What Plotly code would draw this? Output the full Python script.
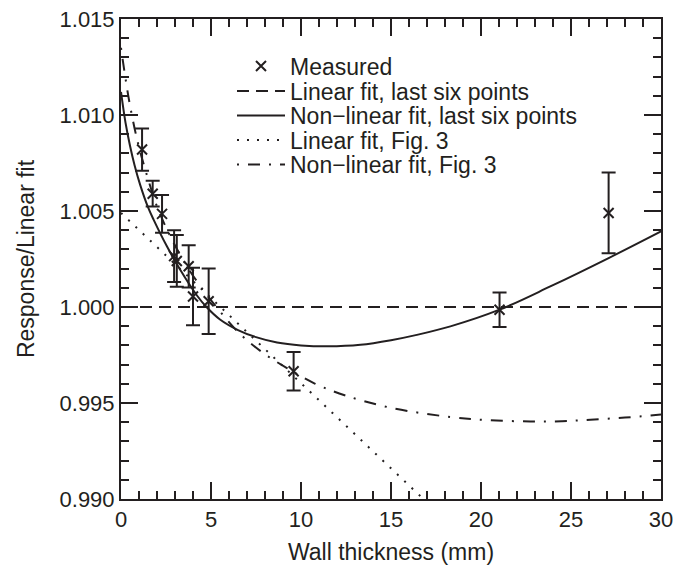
import plotly.graph_objects as go

# ---- Measured points ----
thickness_mm = [1.17, 1.76, 2.28, 2.95, 3.10, 3.76, 4.00, 4.87, 9.59, 21.03, 27.09]
response = [1.00820, 1.00590, 1.00485, 1.00265, 1.00240, 1.00212, 1.00055, 1.00030, 0.99665, 0.99986, 1.00490]
response_err = [0.00110, 0.00067, 0.00098, 0.00135, 0.00135, 0.00110, 0.00150, 0.00170, 0.00100, 0.00090, 0.00210]

# ---- Linear fit, last six points ----
lin6_x = [0, 30]
lin6_y = [1.000, 1.000]

# ---- Non-linear fit, last six points ----
nl6_x = [0, 0.25, 0.5, 0.75, 1.07, 1.5, 1.81, 2.55, 3.29, 4.22, 4.75, 5.5, 6.5, 7.5, 8.67,
         10.0, 11.5, 13.3, 15.0, 16.5, 18.3, 21.03, 23.85, 27.09, 30.0]
nl6_y = [1.0112, 1.0096, 1.0084, 1.0074, 1.00635, 1.0052, 1.00455, 1.00316, 1.00194, 1.00060,
         1.0000, 0.99935, 0.99880, 0.99843, 0.99815, 0.99800, 0.99795, 0.99803, 0.99827, 0.99856,
         0.99899, 0.99986, 1.00107, 1.00255, 1.00394]

# ---- Linear fit, Fig. 3 ----
linf3_x = [0, 16.8]
linf3_y = [1.0049, 0.9900]

# ---- Non-linear fit, Fig. 3 ----
nlf3_x = [0, 0.25, 0.5, 0.9, 1.35, 2.0, 2.74, 3.67, 4.4, 5.3, 6.5, 7.83, 9.22, 10.79, 12.5,
          15.0, 18.3, 20.5, 22.74, 24.5, 26.07, 28.0, 30.0]
nlf3_y = [1.0135, 1.0119, 1.0105, 1.0087, 1.00715, 1.00524, 1.00368, 1.00211, 1.00110, 1.0000,
          0.99870, 0.99765, 0.99682, 0.99600, 0.99538, 0.99475, 0.99427, 0.99410, 0.99404,
          0.99405, 0.99413, 0.99424, 0.99440]

legend_names = ["Measured", "Linear fit, last six points", "Non\u2212linear fit, last six points",
                "Linear fit, Fig. 3", "Non\u2212linear fit, Fig. 3"]

ink = "#231f20"
FONT = "Liberation Sans, Arial, Helvetica, sans-serif"

fig = go.Figure()
fig.add_trace(go.Scatter(x=lin6_x, y=lin6_y, mode="lines", name=legend_names[1], legend="legend2",
                         line=dict(color=ink, width=2, dash="12px,7px")))
fig.add_trace(go.Scatter(x=nl6_x, y=nl6_y, mode="lines", name=legend_names[2], legend="legend3",
                         line=dict(color=ink, width=2, shape="spline", smoothing=1.0)))
fig.add_trace(go.Scatter(x=linf3_x, y=linf3_y, mode="lines", name=legend_names[3], legend="legend4",
                         line=dict(color=ink, width=2, dash="2px,8px")))
fig.add_trace(go.Scatter(x=nlf3_x, y=nlf3_y, mode="lines", name=legend_names[4], legend="legend5",
                         line=dict(color=ink, width=2, dash="2px,9px,12px,9px", shape="spline", smoothing=1.0)))
fig.add_trace(go.Scatter(x=thickness_mm, y=response, mode="markers", name=legend_names[0], legend="legend",
                         showlegend=True,
                         marker=dict(symbol="x-thin", size=10, color=ink, line=dict(color=ink, width=2)),
                         error_y=dict(type="data", array=response_err, visible=True, color=ink,
                                      thickness=2, width=7)))

# plot area in window pixels (page body margin is removed below)
PL, PT, PW, PH = 121, 19, 540, 480
FIG_W, FIG_H = 677, 583
L, T = PL, PT
R = FIG_W - L - PW
B = FIG_H - T - PH

def px_to_paper(px, py):
    return (px - PL) / PW, (PT + PH - py) / PH

row_y = [66, 91, 115.5, 140, 164.5]
leg_x = 232
legends = {}
for i, key in enumerate(["legend", "legend2", "legend3", "legend4", "legend5"]):
    xp, yp = px_to_paper(leg_x, row_y[i])
    legends[key] = dict(x=xp, y=yp, xanchor="left", yanchor="middle", bgcolor="rgba(0,0,0,0)",
                        borderwidth=0, font=dict(family=FONT, size=23, color=ink), itemwidth=48,
                        traceorder="normal")

axis_common = dict(showline=True, linecolor=ink, linewidth=2, mirror="ticks", ticks="inside",
                   tickcolor=ink, tickwidth=2, ticklen=17, showgrid=False, zeroline=False,
                   ticklabeloverflow="allow",
                   tickfont=dict(family=FONT, size=22, color=ink))

fig.update_layout(
    width=FIG_W, height=FIG_H,
    margin=dict(l=L, r=R, t=T, b=B, autoexpand=False),
    paper_bgcolor="white", plot_bgcolor="white",
    font=dict(family=FONT, color=ink),
    showlegend=True,
    xaxis=dict(range=[0, 30], tickvals=[0, 5, 10, 15, 20, 25, 30],
               minor=dict(dtick=1, tick0=0, ticklen=8, tickwidth=2, tickcolor=ink, ticks="inside"),
               title=dict(text="Wall thickness (mm)", font=dict(family=FONT, size=23, color=ink), standoff=12),
               **axis_common),
    yaxis=dict(range=[0.990, 1.015], tickvals=[0.990, 0.995, 1.000, 1.005, 1.010, 1.015], tickformat=".3f",
               minor=dict(dtick=0.001, tick0=0.990, ticklen=8, tickwidth=2, tickcolor=ink, ticks="inside"),
               title=dict(text="Response/Linear fit", font=dict(family=FONT, size=23, color=ink), standoff=18),
               **axis_common),
    **legends,
)

fig.write_html("out.html", config={"displayModeBar": False},
               post_script="document.body.style.margin='0px';")
